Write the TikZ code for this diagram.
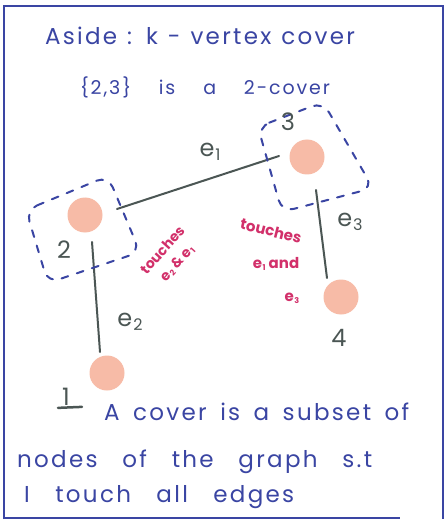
\documentclass[tikz,border=0pt]{standalone}
\usepackage{fontspec}
\setmainfont{Poppins}
\newfontfamily\handfont[LetterSpace=10]{Poppins}
\usetikzlibrary{calc}
\definecolor{ink}{HTML}{3A45A3}
\definecolor{redink}{HTML}{D2306A}
\definecolor{gray1}{HTML}{4B5654}
\definecolor{peach}{HTML}{F7BBA7}
\newcommand{\edgelab}[1]{e\kern1pt\raisebox{-4pt}{\fontsize{16}{18}\selectfont #1}}
\newcommand{\redsub}[1]{e\kern0.5pt\raisebox{-2pt}{\footnotesize #1}}
\newcommand{\spreadline}[2]{\makebox[#1pt][s]{#2}}
\begin{document}
\begin{tikzpicture}[x=1pt,y=-1pt,
  vert/.style={circle,fill=peach,minimum size=35pt,inner sep=0pt},
  edgeline/.style={draw=gray1,line width=2pt,line cap=round},
  blue text/.style={text=ink,font=\handfont\fontsize{23}{26}\selectfont,inner sep=0pt},
  gray text/.style={text=gray1,font=\fontsize{24}{26}\selectfont,inner sep=0pt},
  red text/.style={text=redink,font=\bfseries\fontsize{14}{19}\selectfont,align=center,inner sep=0pt},
  red big/.style={red text,font=\bfseries\fontsize{15}{16}\selectfont},
  coverbox/.style={draw=ink,line width=2pt,dash pattern=on 7pt off 9pt,rounded corners=12pt,line cap=round}]
\useasboundingbox (0,0) rectangle (445,521);
\fill[white] (0,0) rectangle (445,521);
\draw[ink,line width=2.5pt] (4,519) -- (4,6) -- (443,6) -- (443,519);
\draw[ink,line width=2.5pt] (4,518) -- (400,518);
% vertices
\node[vert] (v2) at (85,215) {};
\node[vert] (v3) at (307,157) {};
\node[vert] (v4) at (341,297) {};
\node[vert] (v1) at (107,373) {};
% edges
\coordinate (a1) at (117,209);
\coordinate (b1) at (279,156);
\draw[edgeline] (a1) -- (b1);
\coordinate (a2) at (92,242);
\coordinate (b2) at (100,352);
\draw[edgeline] (a2) -- (b2);
\coordinate (a3) at (316,190);
\coordinate (b3) at (327,278);
\draw[edgeline] (a3) -- (b3);
% cover boxes
\draw[coverbox] (26,210) -- (108,176) -- (140,252) -- (48,283) -- cycle;
\draw[coverbox] (258,127) -- (323,102) -- (373,188) -- (282,212) -- cycle;
% labels
\node[gray text] (l2) at (64,250) {2};
\node[gray text] (l3) at (288,122) {3};
\node[gray text] (l4) at (339,338) {4};
\node[gray text] (l1) at (66,397) {1};
\draw[gray1,line width=2.5pt,line cap=round] (l1.south west) ++(-4,2) -- ++(24,-1);
\node[gray text] (le1) at (210,152) {\edgelab{1}};
\node[gray text] (le2) at (130,322) {\edgelab{2}};
\node[gray text] (le3) at (350,222) {\edgelab{3}};
\node[red text,rotate=48] (t1) at (170,257) {touches\\\redsub{2} \& \redsub{1}};
\node[red big,rotate=-14] (t2a) at (271,231) {touches};
\node[red big] (t2b) at (276,264) {\redsub{1} and};
\node[red big] (t2c) at (292,298) {\redsub{3}};
% texts
\node[blue text] (title) at (200,36) {\spreadline{310}{Aside : k - vertex cover}};
\node[blue text,font=\handfont\fontsize{19}{22}\selectfont] (sub) at (205,87) {\spreadline{250}{\{2,3\} is a 2-cover}};
\node[blue text,anchor=west] (d1) at (104,412) {\spreadline{305}{A cover is a subset of}};
\node[blue text,anchor=west] (d2) at (17,462) {\spreadline{355}{nodes of the graph s.t}};
\node[blue text,anchor=west] (d3) at (24,497) {\spreadline{270}{I touch all edges}};
\end{tikzpicture}
\end{document}
